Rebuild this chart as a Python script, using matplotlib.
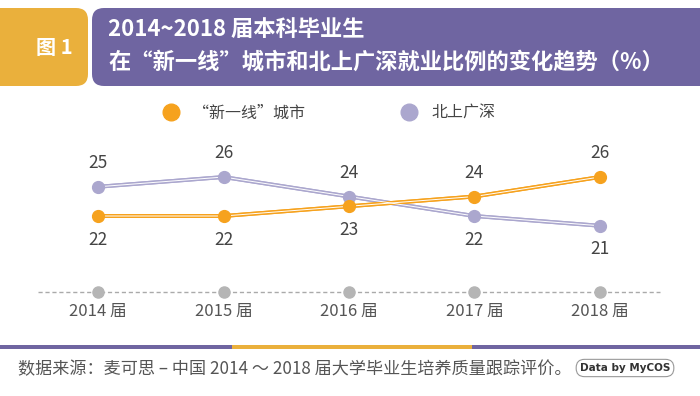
import matplotlib
matplotlib.use('Agg')
import matplotlib.pyplot as plt
from matplotlib.patches import FancyBboxPatch, Rectangle
from matplotlib.lines import Line2D
import matplotlib.patheffects as pe

plt.rcParams['font.family'] = ['Noto Sans CJK SC', 'DejaVu Sans']

years = ['2014 届', '2015 届', '2016 届', '2017 届', '2018 届']
new_tier1 = [22, 22, 23, 24, 26]
bsgs = [25, 26, 24, 22, 21]
# label side for each point: +1 above, -1 below
new_tier1_side = [-1, -1, -1, 1, 1]
bsgs_side = [1, 1, 1, -1, -1]

ORANGE = '#F6A21E'
PURPLE = '#ABA7CE'
HEAD_PURPLE = '#6F65A1'
HEAD_ORANGE = '#EAB03C'
TEXT = '#444444'

fig = plt.figure(figsize=(7, 3.96), dpi=100)

# decoration layer in pixel coordinates
deco = fig.add_axes([0, 0, 1, 1])
deco.set_xlim(0, 700)
deco.set_ylim(396, 0)
deco.axis('off')

deco.add_patch(FancyBboxPatch((-20, 8), 108, 78, boxstyle='round,pad=0,rounding_size=12',
                              fc=HEAD_ORANGE, ec='none'))
deco.add_patch(FancyBboxPatch((92, 8), 630, 78, boxstyle='round,pad=0,rounding_size=12',
                              fc=HEAD_PURPLE, ec='none'))
deco.text(54, 47, '图 1', color='white', fontsize=14.5, fontweight='bold', ha='center', va='center')
deco.text(108, 30, '2014~2018 届本科毕业生', color='white', fontsize=16, fontweight='bold',
          ha='left', va='center')
deco.text(108, 62, '在“新一线”城市和北上广深就业比例的变化趋势（%）', color='white', fontsize=16,
          fontweight='bold', ha='left', va='center')

# bottom stripe
deco.add_patch(Rectangle((0, 345), 232, 4, fc=HEAD_PURPLE, ec='none'))
deco.add_patch(Rectangle((232, 345), 240, 4, fc=HEAD_ORANGE, ec='none'))
deco.add_patch(Rectangle((472, 345), 228, 4, fc=HEAD_PURPLE, ec='none'))

deco.text(18, 369, '数据来源：麦可思 – 中国 2014 ～ 2018 届大学毕业生培养质量跟踪评价。',
          color='#555555', fontsize=12.3, ha='left', va='center')
deco.text(625, 368, 'Data by MyCOS', color='#333333', fontsize=7.5, fontweight='bold',
          ha='center', va='center', family=['Liberation Sans Narrow', 'DejaVu Sans'],
          bbox=dict(boxstyle='round,pad=0.35,rounding_size=0.8', fc='white', ec='#999999', lw=0.8))

# data axes
ax = fig.add_axes([38 / 700, 1 - 292 / 396, 622 / 700, 152 / 396])
ax.patch.set_alpha(0)
x = list(range(len(years)))
ymin, ymax = 14.2, 29.8
ax.set_xlim(-0.48, 4.48)
ax.set_ylim(ymin, ymax)
for s in ax.spines.values():
    s.set_visible(False)
ax.set_yticks([])
ax.set_xticks(x)
ax.set_xticklabels(years, color='#555555', fontsize=12)
ax.tick_params(axis='x', length=0, pad=8)

ax.axhline(ymin, color='#AAAAAA', lw=1, ls=(0, (3, 2)), clip_on=False, zorder=1)
ax.plot(x, [ymin] * len(x), 'o', color='#B5B5B5', ms=8, clip_on=False, zorder=2)

for vals, sides, col in [(bsgs, bsgs_side, PURPLE), (new_tier1, new_tier1_side, ORANGE)]:
    ax.plot(x, vals, color=col, lw=2.8, zorder=3,
            path_effects=[pe.Stroke(linewidth=2.8, foreground=col), pe.Normal()])
    ax.plot(x, vals, color='white', lw=0.7, zorder=4)
    ax.plot(x, vals, 'o', color=col, ms=8.5, zorder=5, clip_on=False)
    for xi, v, sd in zip(x, vals, sides):
        ax.annotate(str(v), (xi, v), xytext=(0, 17 * sd), textcoords='offset points',
                    ha='center', va='center', fontsize=12.5, color=TEXT, zorder=6)

handles = [Line2D([], [], ls='none', marker='o', ms=12, color=ORANGE),
           Line2D([], [], ls='none', marker='o', ms=12, color=PURPLE)]
fig.legend(handles, ['“新一线”城市', '北上广深'], loc='center', ncol=2, frameon=False,
           bbox_to_anchor=(325 / 700, 1 - 113 / 396), fontsize=11.5, columnspacing=5.5,
           handletextpad=0.4, labelcolor=TEXT)

fig.savefig('out.png', dpi=100)
